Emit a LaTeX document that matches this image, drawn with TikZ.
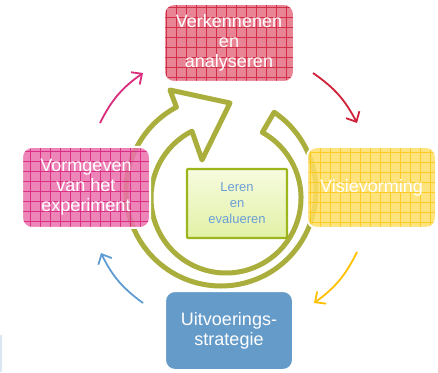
\documentclass[tikz,border=0pt]{standalone}
\usepackage{fontspec}
\setmainfont{Liberation Sans}
\usetikzlibrary{arrows.meta}
\definecolor{ringcol}{HTML}{A9AE3C}
\definecolor{redfill}{HTML}{E46E80}
\definecolor{redgrid}{HTML}{D02541}
\definecolor{pinkfill}{HTML}{EA70AC}
\definecolor{pinkgrid}{HTML}{D8267F}
\definecolor{yelfill}{HTML}{FFDF66}
\definecolor{yelgrid}{HTML}{FFC91F}
\definecolor{bluefill}{HTML}{659BC9}
\definecolor{ctrborder}{HTML}{9DB61E}
\definecolor{ctrtop}{HTML}{F6FBDE}
\definecolor{ctrbot}{HTML}{E2F1A6}
\definecolor{ctrtext}{HTML}{6A9FD6}
\definecolor{arrmag}{HTML}{D92C7C}
\definecolor{arrred}{HTML}{D0203A}
\definecolor{arryel}{HTML}{FFC000}
\definecolor{arrblue}{HTML}{5E9CD3}
\definecolor{sidebar}{HTML}{DCE6F2}
\tikzset{
  ring/.style={draw=ringcol, line width=5pt, line join=round, fill=white},
  stagebox/.style={rounded corners=10pt, draw=white, line width=2pt, inner sep=0pt,
    text=white, align=center, font=\fontsize{18}{20}\selectfont,
    fill opacity=0.85, text opacity=1},
  gridded/.style={path picture={\draw[#1, line width=0.7pt, draw opacity=0.9]
    (path picture bounding box.south west) grid[step=10pt] (path picture bounding box.north east);}},
  ctrbox/.style={draw=ctrborder, line width=2.2pt, top color=ctrtop, bottom color=ctrbot,
    rounded corners=1pt, text=ctrtext, align=center, font=\fontsize{13}{16}\selectfont,
    minimum width=100pt, minimum height=69pt, inner sep=0pt},
  cyc/.style={line width=1.8pt, bend left=14, -{Straight Barb[length=8pt,width=15pt]}}
}
\begin{document}
\begin{tikzpicture}[x=1pt,y=1pt]
\useasboundingbox (0,0) rectangle (438,372);
\fill[sidebar] (0,0) rectangle (2,37);
% circular arrow
\draw[ring] ([shift={(56:95)}]221,181) arc[start angle=56, end angle=-242, radius=95]
  -- (170,282) -- (230,269) -- (202,212)
  -- ([shift={(117:75)}]226,174) arc[start angle=117, end angle=421, radius=75] -- cycle;
% stage boxes
\node[stagebox, fill=redfill, gridded=redgrid, minimum width=130pt, minimum height=78pt]
  (verk) at (229,329) {Verkennenen\\en\\analyseren};
\node[stagebox, fill=yelfill, gridded=yelgrid, minimum width=129pt, minimum height=81pt]
  (visie) at (371.5,184.5) {Visievorming};
\node[stagebox, fill=bluefill, fill opacity=1, minimum width=128pt, minimum height=79pt]
  (uitv) at (229,41.5) {Uitvoerings-\\strategie};
\node[stagebox, fill=pinkfill, gridded=pinkgrid, minimum width=128pt, minimum height=81pt]
  (vorm) at (86,184.5) {Vormgeven\\van het\\experiment};
\node[ctrbox] (leren) at (237,168.5) {Leren\\en\\evalueren};
% cycle arrows
\coordinate (m1) at (100,249); \coordinate (m2) at (143,299);
\coordinate (r1) at (313,299); \coordinate (r2) at (357,249);
\coordinate (y1) at (357,120); \coordinate (y2) at (314,69);
\coordinate (b1) at (143,69);  \coordinate (b2) at (101,119);
\draw[cyc, arrmag] (m1) to (m2);
\draw[cyc, arrred] (r1) to (r2);
\draw[cyc, arryel] (y1) to (y2);
\draw[cyc, arrblue] (b1) to (b2);
\end{tikzpicture}
\end{document}
